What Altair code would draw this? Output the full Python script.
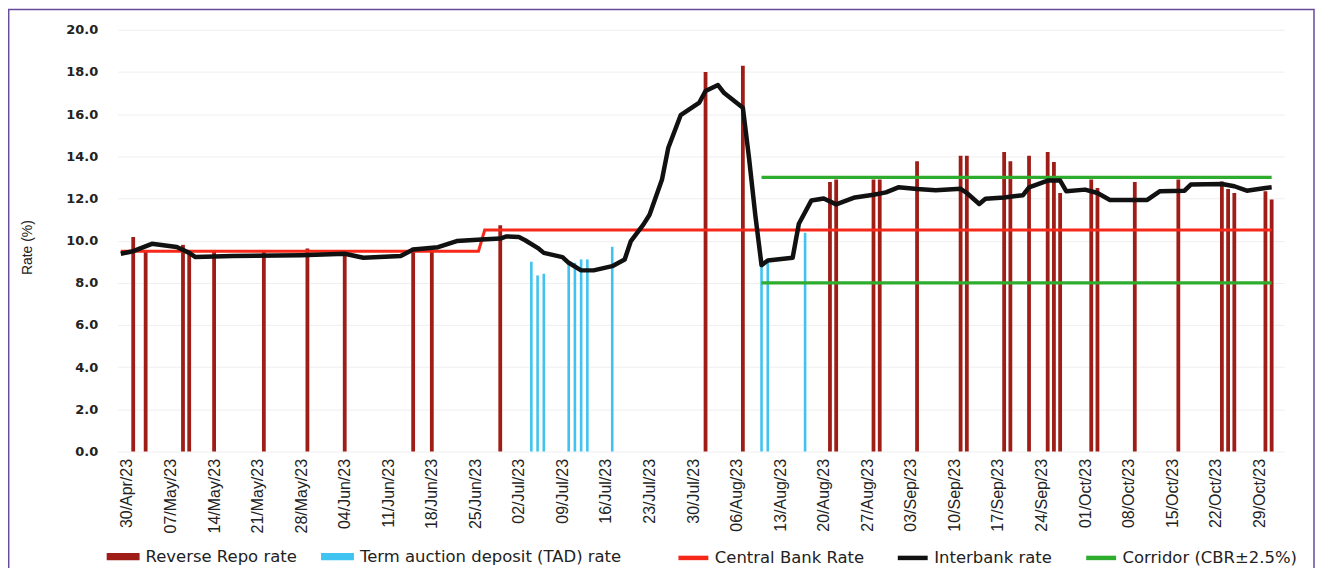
import altair as alt
import pandas as pd

# ---------------- data ----------------
repo_dates = ["2023-05-01", "2023-05-03", "2023-05-09", "2023-05-10", "2023-05-14",
              "2023-05-22", "2023-05-29", "2023-06-04", "2023-06-15", "2023-06-18",
              "2023-06-29", "2023-08-01", "2023-08-07", "2023-08-21", "2023-08-22",
              "2023-08-28", "2023-08-29", "2023-09-04", "2023-09-11", "2023-09-12",
              "2023-09-18", "2023-09-19", "2023-09-22", "2023-09-25", "2023-09-26",
              "2023-09-27", "2023-10-02", "2023-10-03", "2023-10-09", "2023-10-16",
              "2023-10-23", "2023-10-24", "2023-10-25", "2023-10-30", "2023-10-31"]
repo_values = [10.17, 9.5, 9.8, 9.5, 9.5,
               9.5, 9.63, 9.55, 9.66, 9.5,
               10.73, 18.0, 18.3, 12.78, 12.9,
               12.9, 12.9, 13.76, 14.03, 14.03,
               14.2, 13.76, 14.03, 14.2, 13.73,
               12.26, 12.9, 12.5, 12.78, 12.9,
               12.81, 12.45, 12.26, 12.34, 11.95]

tad_dates = ["2023-07-04", "2023-07-05", "2023-07-06", "2023-07-10", "2023-07-11",
             "2023-07-12", "2023-07-13", "2023-07-17", "2023-08-10", "2023-08-11",
             "2023-08-17"]
tad_values = [9.0, 8.35, 8.43, 9.0, 8.95, 9.11, 9.11, 9.71, 9.1, 9.0, 10.37]

cbr_dates = ["2023-04-29", "2023-06-25T12:00:00Z", "2023-06-26T12:00:00Z", "2023-10-31"]
cbr_values = [9.5, 9.5, 10.5, 10.5]

interbank_dates = ["2023-04-29", "2023-05-01", "2023-05-04", "2023-05-08", "2023-05-10",
                   "2023-05-11", "2023-05-17", "2023-05-28", "2023-06-04", "2023-06-07",
                   "2023-06-13", "2023-06-15", "2023-06-19", "2023-06-22", "2023-06-26",
                   "2023-06-29", "2023-06-30", "2023-07-02", "2023-07-03", "2023-07-05",
                   "2023-07-06", "2023-07-09", "2023-07-10", "2023-07-12", "2023-07-14",
                   "2023-07-17", "2023-07-19", "2023-07-20", "2023-07-22", "2023-07-23",
                   "2023-07-25", "2023-07-26", "2023-07-28", "2023-07-31", "2023-08-01",
                   "2023-08-03", "2023-08-04", "2023-08-07", "2023-08-08", "2023-08-09",
                   "2023-08-10", "2023-08-11", "2023-08-15", "2023-08-16", "2023-08-18",
                   "2023-08-20", "2023-08-22", "2023-08-25", "2023-08-28", "2023-08-30",
                   "2023-09-01", "2023-09-04", "2023-09-07", "2023-09-11", "2023-09-12",
                   "2023-09-14", "2023-09-15", "2023-09-18", "2023-09-21", "2023-09-22",
                   "2023-09-25", "2023-09-27", "2023-09-28", "2023-10-01", "2023-10-03",
                   "2023-10-05", "2023-10-11", "2023-10-13", "2023-10-17", "2023-10-18",
                   "2023-10-23", "2023-10-25", "2023-10-27", "2023-10-30", "2023-10-31"]
interbank_values = [9.38, 9.5, 9.85, 9.7, 9.42,
                    9.22, 9.27, 9.31, 9.38, 9.19,
                    9.27, 9.58, 9.69, 9.98, 10.05,
                    10.1, 10.2, 10.17, 10.02, 9.66,
                    9.42, 9.22, 8.95, 8.59, 8.59,
                    8.79, 9.11, 9.98, 10.76, 11.23,
                    12.9, 14.39, 15.95, 16.55, 17.1,
                    17.38, 17.0, 16.3, 13.9, 11.2,
                    8.84, 9.06, 9.19, 10.8, 11.9,
                    12.0, 11.72, 12.05, 12.18, 12.29,
                    12.53, 12.45, 12.39, 12.46, 12.26,
                    11.74, 11.99, 12.05, 12.15, 12.53,
                    12.85, 12.85, 12.34, 12.42, 12.26,
                    11.93, 11.93, 12.34, 12.37, 12.66,
                    12.69, 12.58, 12.37, 12.5, 12.53]

corridor_dates = ["2023-08-10", "2023-10-31"]
corridor_upper = [13.0, 13.0]
corridor_lower = [8.0, 8.0]

tick_dates = [(2023, 4, 30), (2023, 5, 7), (2023, 5, 14), (2023, 5, 21), (2023, 5, 28),
              (2023, 6, 4), (2023, 6, 11), (2023, 6, 18), (2023, 6, 25), (2023, 7, 2),
              (2023, 7, 9), (2023, 7, 16), (2023, 7, 23), (2023, 7, 30), (2023, 8, 6),
              (2023, 8, 13), (2023, 8, 20), (2023, 8, 27), (2023, 9, 3), (2023, 9, 10),
              (2023, 9, 17), (2023, 9, 24), (2023, 10, 1), (2023, 10, 8), (2023, 10, 15),
              (2023, 10, 22), (2023, 10, 29)]
y_ticks = [0, 2, 4, 6, 8, 10, 12, 14, 16, 18, 20]

bar_series = ["Reverse Repo rate", "Term auction deposit (TAD) rate"]
bar_colors = ["#9e1d17", "#3fc3f0"]
line_series = ["Central Bank Rate", "Interbank rate", "Corridor (CBR±2.5%)"]
line_colors = ["#f5281a", "#111111", "#2eac2e"]

# ---------------- frames ----------------
df_repo = pd.DataFrame({"date": repo_dates, "value": repo_values, "series": bar_series[0]})
df_tad = pd.DataFrame({"date": tad_dates, "value": tad_values, "series": bar_series[1]})
df_cbr = pd.DataFrame({"date": cbr_dates, "value": cbr_values, "series": line_series[0]})
df_ib = pd.DataFrame({"date": interbank_dates, "value": interbank_values, "series": line_series[1]})
df_cor = pd.concat([
    pd.DataFrame({"date": corridor_dates, "value": corridor_upper, "part": "upper"}),
    pd.DataFrame({"date": corridor_dates, "value": corridor_lower, "part": "lower"}),
])
df_cor["series"] = line_series[2]

W, H = 1170, 423

xscale = alt.Scale(type="utc", padding=0,
                   domain=[alt.DateTime(year=2023, month=4, date=28, hours=12, utc=True),
                           alt.DateTime(year=2023, month=11, date=2, utc=True)])
yscale = alt.Scale(domain=[0, 20], nice=False, zero=True, padding=0)

xaxis = alt.Axis(values=[alt.DateTime(year=y, month=m, date=d, utc=True) for y, m, d in tick_dates],
                 labelExpr="utcFormat(datum.value, '%d/%b/%y')", labelAngle=-90, title=None,
                 grid=False, ticks=False, domain=False, labelPadding=7,
                 labelFont="Liberation Sans", labelFontSize=16, labelColor="#222222")
yaxis = alt.Axis(values=y_ticks, format=".1f", title="Rate (%)", grid=True,
                 gridColor="#efefef", gridWidth=1, ticks=False, domain=False,
                 labelPadding=20, labelFont="DejaVu Sans", labelFontWeight="bold",
                 labelFontSize=13, labelColor="#222222",
                 titleFont="Liberation Sans", titleFontWeight="normal", titleFontSize=14,
                 titleColor="#222222", titleX=-90, titleY=218, titleAngle=270,
                 titleAlign="center", titleBaseline="middle")

X = alt.X("date:T", scale=xscale, axis=xaxis)
Xn = alt.X("date:T", scale=xscale)
Y = alt.Y("value:Q", scale=yscale, axis=yaxis)
Yn = alt.Y("value:Q", scale=yscale)

color_enc = alt.Color("series:N",
                      scale=alt.Scale(domain=bar_series, range=bar_colors),
                      legend=alt.Legend(title=None, orient="none", direction="horizontal",
                                        legendX=-11, legendY=512,
                                        symbolType="M-1,-0.22H1V0.22H-1Z", symbolSize=1089,
                                        symbolStrokeWidth=0, labelOffset=6, columnPadding=24,
                                        labelFont="DejaVu Sans", labelFontSize=16.5,
                                        labelColor="#222222", labelLimit=400))
stroke_enc = alt.Stroke("series:N",
                        scale=alt.Scale(domain=line_series, range=line_colors),
                        legend=alt.Legend(title=None, orient="none", direction="horizontal",
                                          legendX=560, legendY=512,
                                          symbolType="stroke", symbolSize=900,
                                          symbolStrokeWidth=4.5, labelOffset=4, columnPadding=24,
                                          labelFont="DejaVu Sans", labelFontSize=16.5,
                                          labelColor="#222222", labelLimit=400))

repo = alt.Chart(df_repo).mark_bar(size=3.8).encode(x=X, y=Y, color=color_enc)
tad = alt.Chart(df_tad).mark_bar(size=2.6).encode(x=Xn, y=Yn, color=color_enc)
cbr = alt.Chart(df_cbr).mark_line(strokeWidth=3).encode(x=Xn, y=Yn, stroke=stroke_enc)
cor = alt.Chart(df_cor).mark_line(strokeWidth=3.2).encode(x=Xn, y=Yn, stroke=stroke_enc,
                                                          detail="part:N")
ib = alt.Chart(df_ib).mark_line(strokeWidth=4.5, strokeJoin="round").encode(
    x=Xn, y=Yn, stroke=stroke_enc)

frame = alt.Chart(alt.Data(values=[{}])).mark_rect(
    fillOpacity=0, stroke="#6a4a9c", strokeWidth=1.5).encode(
    x=alt.value(-109.3), x2=alt.value(1200), y=alt.value(-20.3), y2=alt.value(600))

chart = alt.layer(repo, tad, cbr, cor, ib, frame).properties(
    width=W, height=H,
    padding={"left": 110, "top": 21, "right": 31, "bottom": 116},
    autosize=alt.AutoSizeParams(type="none"),
    background="white",
).configure_view(stroke=None)

chart.save("out.html", embed_options={"renderer": "svg", "actions": False})
